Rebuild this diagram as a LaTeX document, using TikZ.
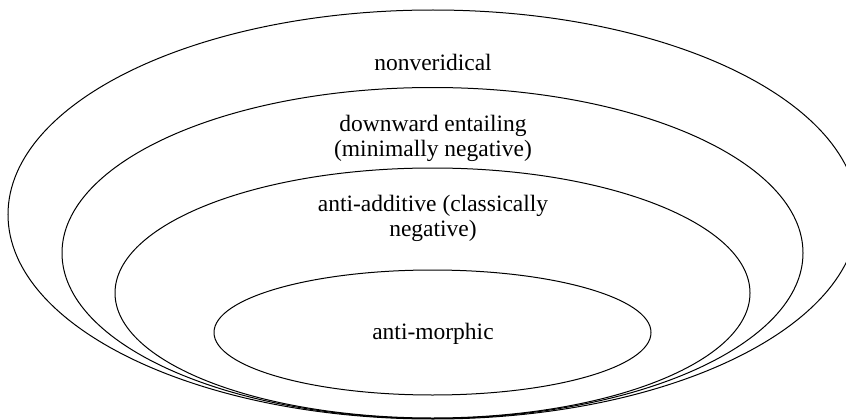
\documentclass[tikz,border=0pt]{standalone}
\usepackage{fontspec}
\setmainfont{Liberation Serif}
\tikzset{lbl/.style={align=center, inner sep=0pt, font=\fontsize{23.5}{25}\selectfont}}
\begin{document}
\begin{tikzpicture}[x=1pt, y=-1pt, line width=1pt]
        \useasboundingbox (0,0) rectangle (846,420);
        \clip (0,0) rectangle (846,420);
        \draw (433,214.5) ellipse[x radius=425pt, y radius=204.5pt];
        \draw (432.5,253) ellipse[x radius=370.5pt, y radius=165.5pt];
        \draw (432.5,293) ellipse[x radius=317.5pt, y radius=125pt];
        \draw (432.5,332.5) ellipse[x radius=218.5pt, y radius=62.5pt];
        \node[lbl] (nonver) at (433,62) {nonveridical};
        \node[lbl] (downent) at (433,138) {downward entailing\\(minimally negative)};
        \node[lbl] (antiadd) at (433,218) {anti-additive (classically\\negative)};
        \node[lbl] (antimorph) at (433,334) {anti-morphic};
\end{tikzpicture}
\end{document}
